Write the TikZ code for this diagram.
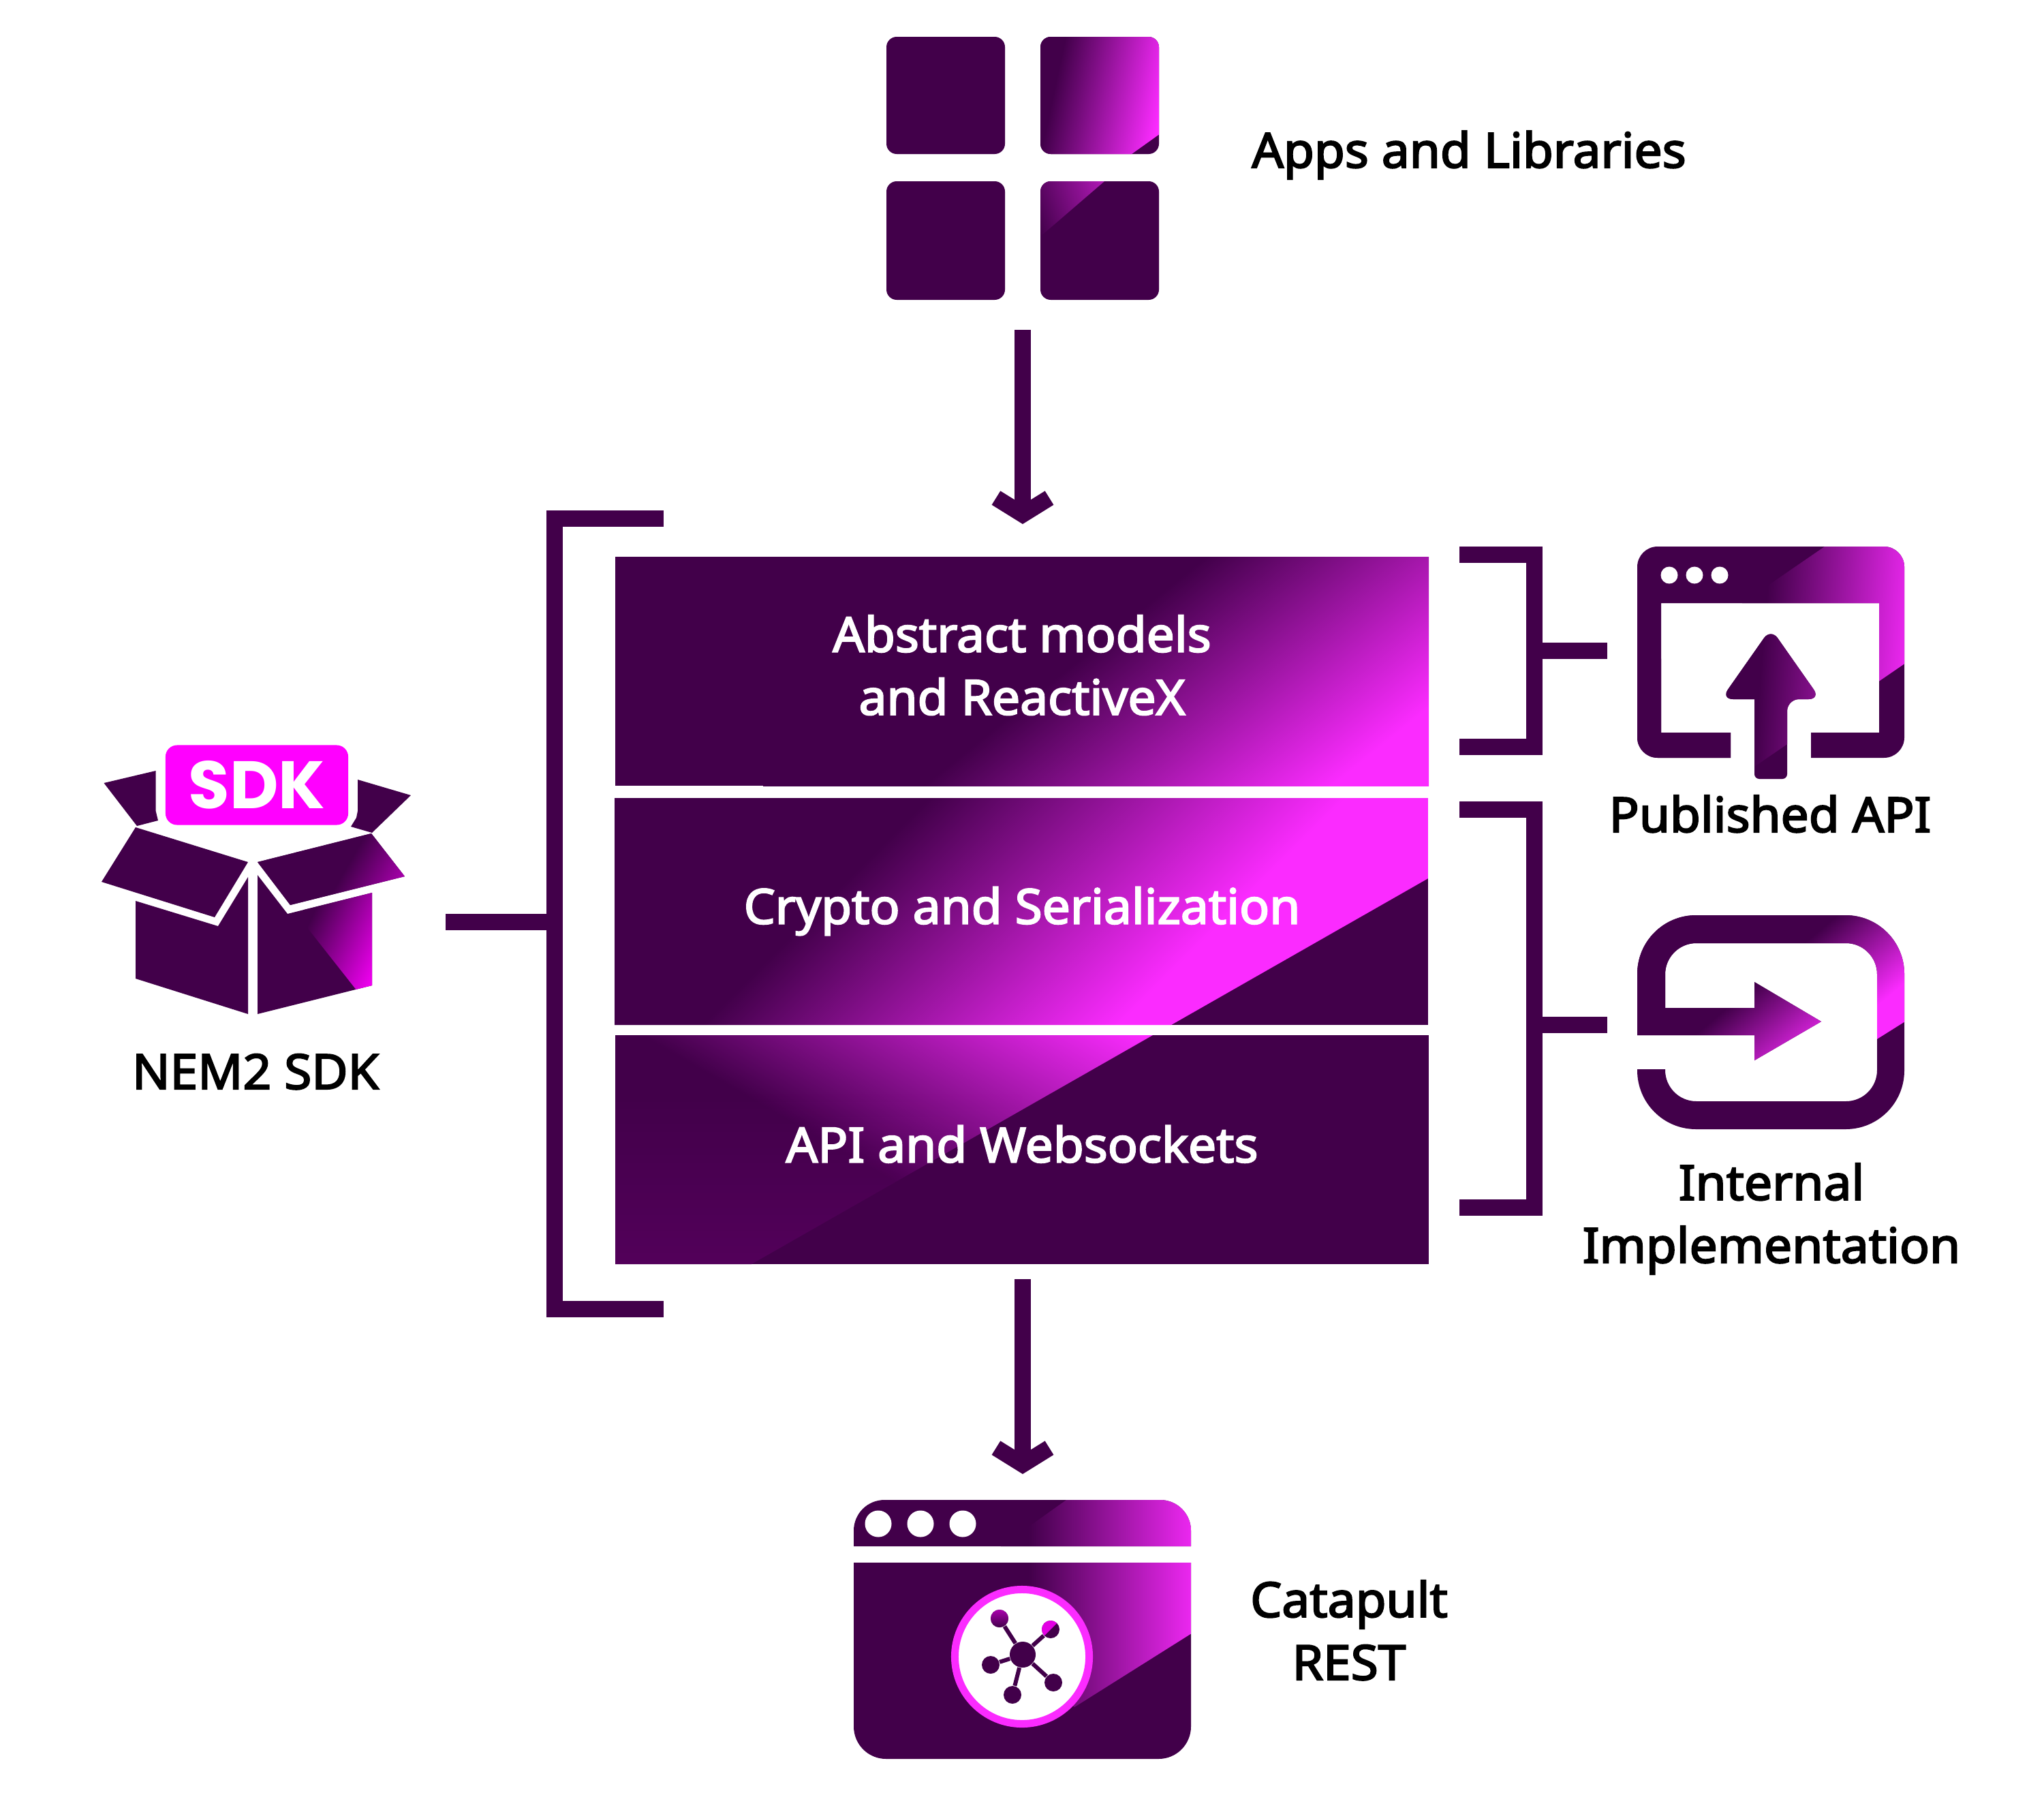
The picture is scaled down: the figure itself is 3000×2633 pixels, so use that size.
\documentclass[tikz,border=0pt]{standalone}
\usepackage{fontspec}
\setmainfont[FakeBold=3,FakeStretch=1.028]{Noto Sans}
\newfontfamily\sdkfont{Poppins}
\usetikzlibrary{positioning}
\usetikzlibrary{arrows.meta}
\usetikzlibrary{fadings}
\definecolor{nemdark}{HTML}{42004A}
\definecolor{nembright}{HTML}{FB2BFF}
\definecolor{nempink}{HTML}{FF00FF}
\pgfdeclarehorizontalshading{beam}{100bp}{color(0bp)=(nemdark); color(45bp)=(nemdark); color(55bp)=(nembright); color(100bp)=(nembright)}
\pgfdeclarehorizontalshading{beampink}{100bp}{color(0bp)=(nemdark); color(45bp)=(nemdark); color(55bp)=(nempink); color(100bp)=(nempink)}
\tikzset{
    bar/.style={draw=nemdark, line width=.24cm},
    flow/.style={bar, -{Straight Barb[length=6.9pt,width=22.2pt]}},
    layer/.style={
        rectangle,
        minimum width=11.94cm,
        inner sep=0pt,
        text=white,
        align=center,
        font=\fontsize{20.2}{26.2}\selectfont
    },
    oneline/.style={text height=.54cm, text depth=.17cm},
    caption/.style={
        inner sep=0pt,
        align=center,
        text=black,
        font=\fontsize{20.2}{26.2}\selectfont
    },
    dotwhite/.style={circle, fill=white, inner sep=0pt},
    leaf/.style={circle, fill=nemdark, inner sep=0pt, minimum size=.26cm}
}
% dark shape, then a beam of gradient over it: {shape}{beam polygon}{x}{y}{ramp}{angle}{shading}
\newcommand{\beamfill}[7]{%
    \fill[nemdark] #1;
    \begin{scope}
        \clip #1;
        \clip #2;
        \shade[shading=#7, shading angle=#6] (#3-2.5*#5,#4-2.5*#5) rectangle (#3+2.5*#5,#4+2.5*#5);
    \end{scope}
}
\newcommand{\apishape}{(2540,1075) -- (2540,1112) [rounded corners=8.5pt] -- (2403,1112) -- (2403,802) -- (2795,802) -- (2795,1112) [sharp corners] -- (2658,1112) -- (2658,1075) -- (2758,1075) -- (2758,885) -- (2438,885) -- (2438,1075) -- cycle
    [rounded corners=5pt] (2575,1026) -- (2526,1026) -- (2599,922) -- (2672,1026) -- (2623,1026) [rounded corners=2pt] -- (2623,1143) -- (2575,1143) [sharp corners] -- cycle}
\newcommand{\implshape}{(2403,1519) [rounded corners=24.5pt] -- (2403,1343) -- (2795,1343) -- (2795,1657) -- (2403,1657) [sharp corners] -- (2403,1569) -- (2444,1569) [rounded corners=13pt] -- (2444,1616) -- (2755,1616) -- (2755,1384) -- (2444,1384) [sharp corners] -- (2444,1479) -- (2575,1479) -- (2575,1441) -- (2673,1499) -- (2575,1556) -- (2575,1519) -- cycle}
\newcommand{\restshape}{(1253,2269) [rounded corners=12.8pt] -- (1253,2201) -- (1748,2201) [sharp corners] -- (1748,2269) -- cycle
    (1253,2293) -- (1748,2293) [rounded corners=13.5pt] -- (1748,2581) -- (1253,2581) [sharp corners] -- cycle}

\begin{document}
\begin{tikzpicture}[x=.01cm,y=-.01cm]
    \useasboundingbox (0,0) rectangle (3000,2633);

    % apps
    \fill[nemdark, rounded corners=4.3pt] (1301,54) rectangle (1475,226);
    \fill[nemdark, rounded corners=4.3pt] (1301,266) rectangle (1475,440);
    \beamfill{[rounded corners=4.3pt] (1527,54) rectangle (1701,226)}{(1520,50) -- (1710,50) -- (1710,191) -- (1661,226) -- (1520,226) -- cycle}{1635}{100}{160}{-12}{beam}
    \beamfill{[rounded corners=4.3pt] (1527,266) rectangle (1701,440)}{(1520,266) -- (1621,266) -- (1520,353) -- cycle}{1619}{316}{195}{20}{beam}
    \node [caption] (apps) at (2156,246) [anchor=base] {Apps and Libraries};

    % stack
    \beamfill{(903,817) rectangle (2097,1153)}{(903,817) rectangle (2097,1153)}{2070}{817}{380}{-51}{beam}
    \beamfill{(902,1171) rectangle (2096,1504)}{(902,1171) -- (2096,1171) -- (2096,1289) -- (1719,1504) -- (902,1504) -- cycle}{1600}{1240}{435}{-45}{beam}
    \beamfill{(903,1519) rectangle (2097,1855)}{(903,1519) -- (1692,1519) -- (1103,1855) -- (903,1855) -- cycle}{1310}{1519}{371}{60}{beam}
    \begin{scope}
        \clip (903,1519) -- (1692,1519) -- (1103,1855) -- (903,1855) -- cycle;
        \fill[nempink, opacity=.09, path fading=north] (903,1600) rectangle (1500,1855);
    \end{scope}
    \node [layer, minimum height=3.36cm] (abstract) at (1500,976) {Abstract models\\and ReactiveX};
    \node [layer, oneline, minimum height=3.33cm] (crypto) at (1500,1337) {Crypto and Serialization};
    \node [layer, oneline, minimum height=3.36cm] (websockets) at (1500,1687) {API and Websockets};

    % left bracket
    \draw[bar] (974,761) -- (814,761) -- (814,1921) -- (974,1921);
    \coordinate (bracketleft) at (814,1353);
    \coordinate (sdkout) at (654,1353);
    \path[bar] (sdkout) edge (bracketleft);

    % right brackets
    \draw[bar] (2142,814) -- (2252,814) -- (2252,1096) -- (2142,1096);
    \draw[bar] (2142,1188) -- (2252,1188) -- (2252,1772) -- (2142,1772);
    \coordinate (publicin) at (2252,955);
    \coordinate (publicout) at (2359,955);
    \coordinate (internalin) at (2252,1504);
    \coordinate (internalout) at (2359,1504);
    \path[bar] (publicin) edge (publicout);
    \path[bar] (internalin) edge (internalout);

    % arrows
    \coordinate (appsout) at (1501,484);
    \coordinate (stackin) at (1501,769);
    \coordinate (stackout) at (1501,1877);
    \coordinate (restin) at (1501,2163);
    \draw[flow] (appsout) -- (stackin);
    \draw[flow] (stackout) -- (restin);

    % published api
    \beamfill{\apishape}{(2678,802) -- (2804,802) -- (2804,968) -- (2394,1249) -- (2394,997) -- cycle}{2708}{880}{230}{-5}{beam}
    \node [dotwhite, minimum size=.25cm] (dotpa) at (2450,844) {};
    \node [dotwhite, minimum size=.25cm] (dotpb) at (2487,844) {};
    \node [dotwhite, minimum size=.25cm] (dotpc) at (2524,844) {};
    \node [caption] (published) at (2598,1221) [anchor=base] {Published API};

    % internal implementation
    \beamfill{\implshape}{(2804,1335) -- (2804,1494) -- (2694,1563) -- (2394,1563) -- (2394,1335) -- cycle}{2693}{1437}{140}{-50}{beam}
    \node [caption] (internal) at (2600,1853) [anchor=base] {Internal\\Implementation};

    % rest
    \beamfill{\restshape}{(1565,2201) -- (1755,2201) -- (1755,2393) -- (1577,2505) -- (1440,2400) -- (1440,2290) -- cycle}{1640}{2340}{260}{0}{beam}
    \foreach \name/\x in {dotra/1289, dotrb/1351, dotrc/1413}
        \node [dotwhite, minimum size=.39cm] (\name) at (\x,2236) {};
    \node [circle, fill=white, draw=nembright, line width=.11cm, minimum size=1.97cm, inner sep=0pt] (ring) at (1500,2431) {};
    \node [leaf, minimum size=.38cm] (hub) at (1501,2428) {};
    \node [leaf, top color=nempink!55!nemdark, bottom color=nemdark] (leafa) at (1467,2375) {};
    \node [leaf, path picture={\fill[nempink!85!nemdark] (path picture bounding box.north west) -- (path picture bounding box.north east) -- (path picture bounding box.south west) -- cycle;}] (leafb) at (1542,2391) {};
    \node [leaf] (leafc) at (1454,2443) {};
    \node [leaf] (leafd) at (1486,2487) {};
    \node [leaf] (leafe) at (1546,2469) {};
    \foreach \leafname in {leafa,leafb,leafc,leafd,leafe}
        \draw[nemdark, line width=.06cm] (hub) -- (\leafname);
    \node [caption] (rest) at (1980,2465) [anchor=base] {Catapult\\REST};

    % sdk box
    \fill[nemdark] (152.5,1149) -- (228.6,1131) -- (228.6,1190) -- (232,1204) -- (201,1212) -- cycle;
    \fill[nemdark] (525,1144) -- (603,1167) -- (546,1222) -- (515,1213) -- (523,1200) -- (525,1190) -- cycle;
    \fill[nemdark] (199,1214) -- (364,1265) -- (315,1346) -- (149,1294) -- cycle;
    \beamfill{(378,1265) -- (545,1223) -- (594,1286) -- (426,1328) -- cycle}{(370,1215) rectangle (600,1335)}{590}{1280}{150}{-30}{beampink}
    \fill[nemdark] (199,1322) -- (320,1359) -- (364,1287) -- (364,1488) -- (199,1436) -- cycle;
    \beamfill{(378,1284) -- (422,1341) -- (546,1310) -- (546,1446) -- (378,1488) -- cycle}{(450,1360) -- (440,1300) -- (550,1300) -- (550,1452) -- (522.5,1452) -- cycle}{546}{1310}{131}{-25}{beampink}
    \node [rectangle, rounded corners=4.8pt, fill=nempink, minimum width=2.68cm, minimum height=1.17cm, inner sep=0pt, text=white, font=\sdkfont\bfseries\fontsize{28}{30}\selectfont] (sdk) at (377,1152) {SDK};
    \node [caption] (nemsdk) at (375,1598) [anchor=base] {NEM2 SDK};
\end{tikzpicture}
\end{document}
